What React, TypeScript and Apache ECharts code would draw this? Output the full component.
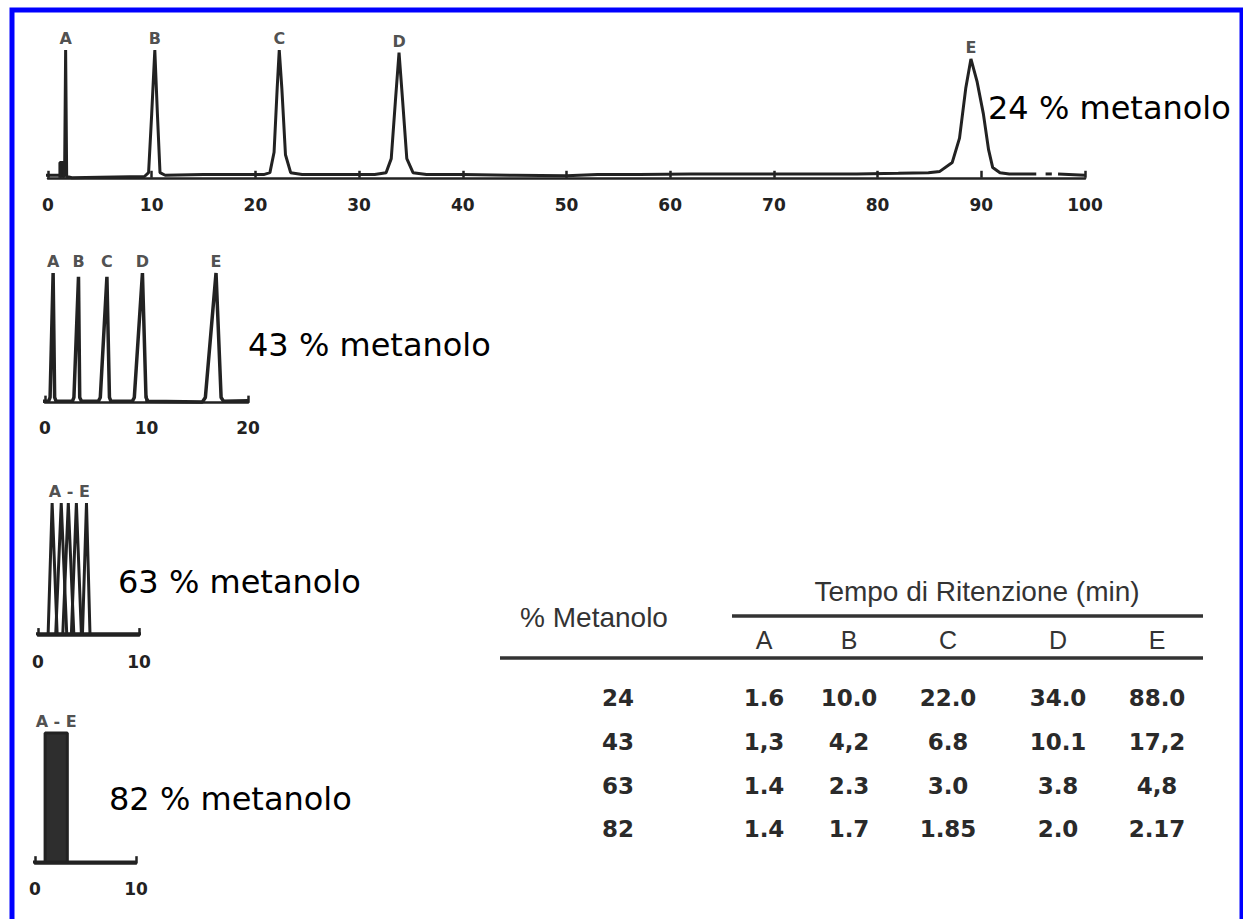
import React, { useEffect, useRef } from "react";
import * as echarts from "echarts";

// ---------- DATA ----------
// chromatogram at 24 % methanol (x = min, y = relative signal)
const trace24: number[][] = [
  [-0.3, 2], [1.1, 2], [1.6, 2], [1.7, 100], [1.8, 1], [2.3, 0], [5, 0.5], [9.3, 1],
  [9.7, 4], [10.0, 50], [10.3, 100], [10.55, 50], [10.8, 4], [11.3, 2], [15, 2.5], [20.8, 2.5],
  [21.4, 4], [21.8, 20], [22.1, 70], [22.3, 100], [22.55, 70], [22.9, 18], [23.4, 4], [24.5, 2.5],
  [28, 2.5], [31.5, 2.5], [32.6, 4], [33.1, 15], [33.5, 60], [33.85, 98], [34.2, 60], [34.6, 15],
  [35.2, 4], [36.5, 2.5], [40, 2.5], [45, 2], [50, 1.5], [53, 2.5], [57, 2.5], [62, 3], [68, 3],
  [72, 3], [78, 3], [82, 3.5], [84.9, 4], [86.0, 5], [87.2, 12], [87.9, 31], [88.5, 70], [89.0, 93],
  [89.6, 75], [90.2, 50], [90.7, 22], [91.1, 8], [91.8, 4], [92.7, 3], [95.3, 3],
];
const trace24Dashes: number[][][] = [
  [[96.2, 3], [96.8, 3]],
  [[97.4, 3], [100, 2]],
];
const injection24: number[][] = [[1.15, 0], [1.15, 12], [1.55, 12], [1.55, 0]];
const letters24 = ["A", "B", "C", "D", "E"];
const apex24 = [1.7, 10.3, 22.3, 33.85, 89.0];
const height24 = [100, 100, 100, 98, 93];

// chromatogram at 43 % methanol
const trace43: number[][] = [
  [-0.8, 1], [0.35, 1], [0.5, 4], [0.8, 100], [0.95, 4], [1.1, 1], [2.7, 1], [2.85, 4],
  [3.3, 97], [3.42, 4], [3.6, 1], [5.25, 1], [5.45, 4], [6.1, 97], [6.35, 4], [6.5, 1],
  [8.6, 1], [8.8, 4], [9.6, 100], [9.95, 4], [10.15, 1], [15.5, 0.5], [15.8, 4], [16.85, 100],
  [17.35, 4], [17.6, 1], [20, 1.5],
];
const apex43 = [0.8, 3.3, 6.1, 9.6, 16.85];

// chromatogram at 63 % methanol (overlapping peaks)
const baseline63: number[][] = [[-0.6, 1], [10.2, 1]];
const peaks63: number[][][] = [
  [[1.0, 0], [1.4, 100], [1.9, 0]],
  [[1.75, 0], [2.3, 100], [2.85, 0]],
  [[2.45, 0], [3.0, 100], [3.55, 0]],
  [[3.3, 0], [3.8, 100], [4.3, 0]],
  [[4.4, 0], [4.8, 100], [5.15, 0]],
];
const label63: [string, number, number] = ["A - E", 3.1, 100];

// chromatogram at 82 % methanol (co-eluting block)
const baseline82: number[][] = [[-1, 1], [10.1, 1]];
const block82: number[][] = [[1.0, 1], [1.0, 100], [3.2, 100], [3.2, 1]];
const label82: [string, number, number] = ["A - E", 2.1, 100];

const axisMax = [100, 20, 10, 10];
const methanolLabels = ["24 % metanolo", "43 % metanolo", "63 % metanolo", "82 % metanolo"];

// table
const tableTitle = "Tempo di Ritenzione (min)";
const rowHeader = "% Metanolo";
const colNames = ["A", "B", "C", "D", "E"];
const methanolPct = ["24", "43", "63", "82"];
const rt24 = ["1.6", "10.0", "22.0", "34.0", "88.0"];
const rt43 = ["1,3", "4,2", "6.8", "10.1", "17,2"];
const rt63 = ["1.4", "2.3", "3.0", "3.8", "4,8"];
const rt82 = ["1.4", "1.7", "1.85", "2.0", "2.17"];

// ---------- LAYOUT ----------
const grids = [
  { left: 48, top: 50, width: 1037, height: 138 },
  { left: 45, top: 273, width: 203, height: 140 },
  { left: 38, top: 503, width: 101, height: 140 },
  { left: 35, top: 733, width: 101, height: 138 },
];
const yMins = [-8, -8, -6, -6];
const labelMargins = [8, 6, 10, 9];
const methanolPos = [
  [988, 108],
  [248, 345],
  [118, 582],
  [109, 799],
];
const INK = "#222222";
const tickFont = "DejaVu Sans";

export default function App() {
  const ref = useRef<HTMLDivElement>(null);
  useEffect(() => {
    if (!ref.current) return;
    const chart = echarts.init(ref.current, undefined, { renderer: "svg" });

    const xAxis = grids.map((_, i) => ({
      type: "value",
      gridIndex: i,
      min: 0,
      max: axisMax[i],
      interval: 10,
      axisLine: { show: true, lineStyle: { color: INK, width: 2.5 } },
      axisTick: { show: true, inside: true, length: 7, lineStyle: { color: INK, width: 2.5 } },
      axisLabel: {
        show: true,
        margin: labelMargins[i],
        color: "#222",
        fontFamily: tickFont,
        fontWeight: "bold",
        fontSize: 17,
      },
      splitLine: { show: false },
    }));
    const yAxis = grids.map((_, i) => ({
      type: "value",
      gridIndex: i,
      min: yMins[i],
      max: 100,
      show: false,
      splitLine: { show: false },
    }));

    const lineStyle = { color: INK, width: 3 };
    const baseLine = (data: number[][], idx: number, extra: any = {}) => ({
      type: "line",
      xAxisIndex: idx,
      yAxisIndex: idx,
      data,
      showSymbol: false,
      symbol: "none",
      clip: false,
      lineStyle,
      silent: true,
      ...extra,
    });
    const labelSeries = (idx: number, items: { name: string; value: number[] }[], fontSize = 16) => ({
      type: "scatter",
      xAxisIndex: idx,
      yAxisIndex: idx,
      data: items,
      symbolSize: 1,
      itemStyle: { color: "rgba(0,0,0,0)" },
      silent: true,
      label: {
        show: true,
        position: "top",
        distance: 3,
        formatter: "{b}",
        color: "#222",
        fontFamily: tickFont,
        fontWeight: "bold",
        fontSize,
      },
    });

    const series: any[] = [
      baseLine(trace24, 0),
      ...trace24Dashes.map((d) => baseLine(d, 0)),
      baseLine(injection24, 0, { areaStyle: { color: INK, opacity: 1 } }),
      labelSeries(0, letters24.map((n, i) => ({ name: n, value: [apex24[i], height24[i]] }))),
      baseLine(trace43, 1, { lineStyle: { color: INK, width: 3.5 } }),
      labelSeries(1, letters24.map((n, i) => ({ name: n, value: [apex43[i], 100] }))),
      baseLine(baseline63, 2),
      ...peaks63.map((p) => baseLine(p, 2)),
      labelSeries(2, [{ name: label63[0], value: [label63[1], label63[2]] }], 16),
      baseLine(baseline82, 3),
      baseLine(block82, 3, { areaStyle: { color: "#2e2e2e", opacity: 1 } }),
      labelSeries(3, [{ name: label82[0], value: [label82[1], label82[2]] }], 16),
    ];

    const txt = (text: string, x: number, y: number, s: any = {}) => ({
      type: "text",
      x,
      y,
      silent: true,
      style: {
        text,
        fill: "#333",
        fontFamily: "Liberation Sans",
        fontSize: 24,
        textAlign: "center",
        align: "center",
        textVerticalAlign: "middle",
        verticalAlign: "middle",
        ...s,
      },
    });

    const colX = [764, 849, 948, 1058, 1157];
    const rowY = [698, 742, 786, 829];
    const rows = [rt24, rt43, rt63, rt82];

    const graphic: any[] = [];
    methanolLabels.forEach((t, i) => {
      graphic.push({
        type: "text",
        x: methanolPos[i][0],
        y: methanolPos[i][1],
        z: 50,
        silent: true,
        style: {
          text: t,
          fill: "#000",
          fontFamily: "DejaVu Sans",
          fontSize: 32,
          textAlign: "left",
          align: "left",
          textVerticalAlign: "middle",
          verticalAlign: "middle",
          backgroundColor: "#ffffff",
          padding: [2, 0, 2, 0],
        },
      });
    });
    // table
    graphic.push(txt(tableTitle, 977, 591, { fontSize: 28, fill: "#333" }));
    graphic.push({
      type: "line",
      silent: true,
      shape: { x1: 732, y1: 616, x2: 1203, y2: 616 },
      style: { stroke: "#333", lineWidth: 3.5 },
    });
    graphic.push(txt(rowHeader, 594, 617, { fontSize: 28, fill: "#333" }));
    colNames.forEach((c, i) => graphic.push(txt(c, colX[i], 640, { fontSize: 25, fill: "#333" })));
    graphic.push({
      type: "line",
      silent: true,
      shape: { x1: 500, y1: 658, x2: 1203, y2: 658 },
      style: { stroke: "#333", lineWidth: 3.5 },
    });
    methanolPct.forEach((m, r) => {
      graphic.push(txt(m, 618, rowY[r], { fontFamily: "DejaVu Sans", fontWeight: "bold", fontSize: 23, fill: "#2a2a2a" }));
      rows[r].forEach((v, c) =>
        graphic.push(txt(v, colX[c], rowY[r], { fontFamily: "DejaVu Sans", fontWeight: "bold", fontSize: 23, fill: "#2a2a2a" }))
      );
    });
    // blue frame
    graphic.push({
      type: "rect",
      z: 100,
      silent: true,
      shape: { x: 12, y: 10, width: 1230, height: 1000 },
      style: { fill: "none", stroke: "#0000ff", lineWidth: 5 },
    });

    chart.setOption({
      animation: false,
      backgroundColor: "#ffffff",
      grid: grids.map((g) => ({ ...g, containLabel: false })),
      xAxis,
      yAxis,
      series,
      graphic,
    });
    return () => chart.dispose();
  }, []);

  return (
    <div
      ref={ref}
      style={{ position: "absolute", left: 0, top: 0, width: 1243, height: 919, background: "#fff" }}
    />
  );
}
